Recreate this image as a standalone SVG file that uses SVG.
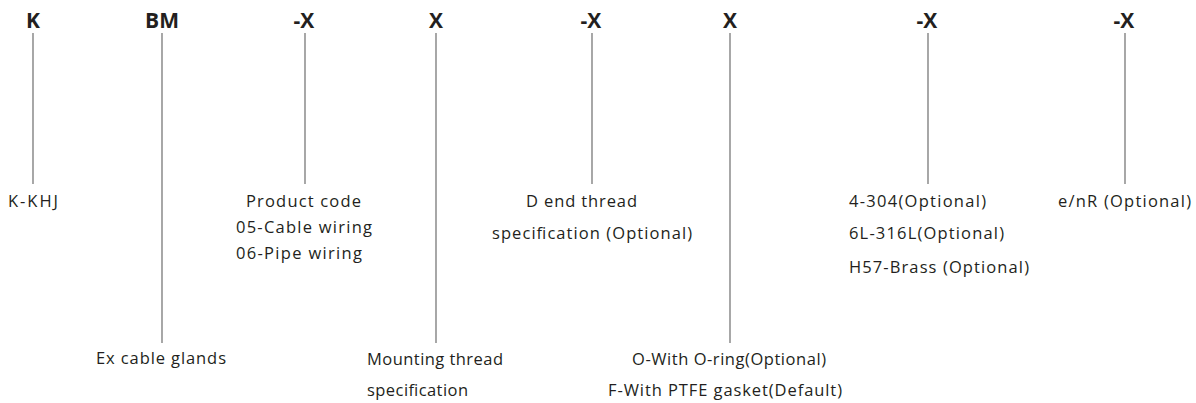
<svg xmlns="http://www.w3.org/2000/svg" width="1196" height="403" viewBox="0 0 1196 403">
<style>
.h{font-family:"Open Sans","Liberation Sans",Arial,sans-serif;font-weight:bold;font-size:21px;fill:#231f20;text-anchor:middle}
.t{font-family:"Open Sans","Liberation Sans",Arial,sans-serif;font-size:16.5px;fill:#231f20}
.c line{stroke:#6d6d6d;stroke-width:1.2}
</style>
<rect width="1196" height="403" fill="#fff"/>
<g id="connectors" class="c">
<line x1="33" y1="33" x2="33" y2="184"/>
<line x1="162" y1="33" x2="162" y2="343"/>
<line x1="305" y1="33" x2="305" y2="184"/>
<line x1="436" y1="33" x2="436" y2="343"/>
<line x1="592" y1="33" x2="592" y2="184"/>
<line x1="730" y1="33" x2="730" y2="343"/>
<line x1="928" y1="33" x2="928" y2="184"/>
<line x1="1125" y1="33" x2="1125" y2="184"/>
</g>
<g id="n-K"><text class="h" x="33" y="28">K</text></g>
<g id="n-BM"><text class="h" x="162" y="28">BM</text></g>
<g id="n-X1"><text class="h" x="304" y="28">-X</text></g>
<g id="n-X2"><text class="h" x="436" y="28">X</text></g>
<g id="n-X3"><text class="h" x="591" y="28">-X</text></g>
<g id="n-X4"><text class="h" x="730" y="28">X</text></g>
<g id="n-X5"><text class="h" x="927" y="28">-X</text></g>
<g id="n-X6"><text class="h" x="1124" y="28">-X</text></g>
<g id="l-K"><text class="t" x="8" y="207" textLength="50">K-KHJ</text></g>
<g id="l-BM"><text class="t" x="96" y="364" textLength="130">Ex cable glands</text></g>
<g id="l-X1">
<text class="t" x="246" y="207" textLength="115">Product code</text>
<text class="t" x="236" y="233" textLength="136">05-Cable wiring</text>
<text class="t" x="236" y="259" textLength="126">06-Pipe wiring</text>
</g>
<g id="l-X2">
<text class="t" x="367" y="365" textLength="136">Mounting thread</text>
<text class="t" x="367" y="396" textLength="101">specification</text>
</g>
<g id="l-X3">
<text class="t" x="526" y="207" textLength="111">D end thread</text>
<text class="t" x="492" y="239" textLength="200">specification (Optional)</text>
</g>
<g id="l-X4">
<text class="t" x="632" y="365" textLength="194">O-With O-ring(Optional)</text>
<text class="t" x="608" y="396" textLength="234">F-With PTFE gasket(Default)</text>
</g>
<g id="l-X5">
<text class="t" x="849" y="207" textLength="137">4-304(Optional)</text>
<text class="t" x="849" y="239" textLength="155">6L-316L(Optional)</text>
<text class="t" x="849" y="273" textLength="180">H57-Brass (Optional)</text>
</g>
<g id="l-X6"><text class="t" x="1058" y="207" textLength="133">e/nR (Optional)</text></g>
</svg>
